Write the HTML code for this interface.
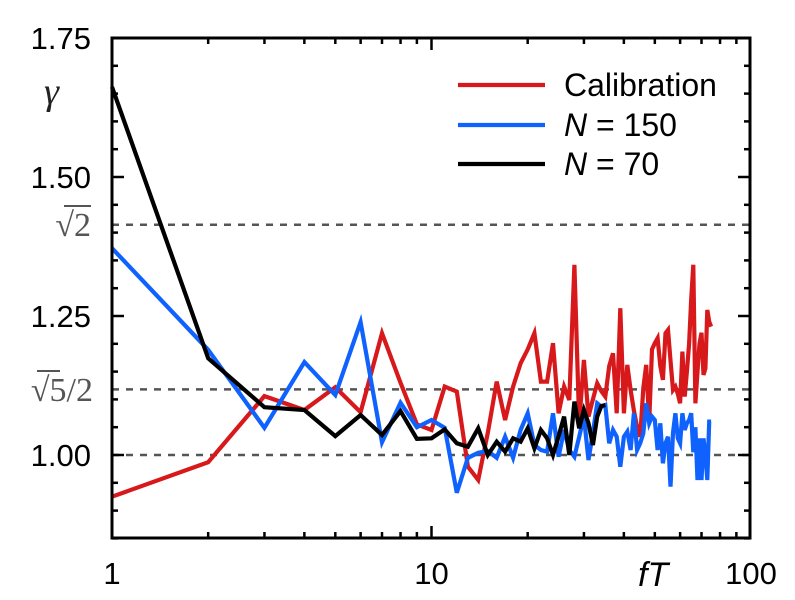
<!DOCTYPE html>
<html><head><meta charset="utf-8"><style>
html,body{margin:0;padding:0;background:#fff;}
svg{display:block;font-family:"Liberation Sans",sans-serif;}
</style></head><body>
<svg id="chart" width="795" height="600" viewBox="0 0 795 600" xmlns="http://www.w3.org/2000/svg">
<g id="grid"></g>
<g id="series"></g>
<g id="axes"></g>
<g id="legend"></g>
</svg>
<script>
const redValues = [0.925,0.987,1.106,1.081,1.122,1.077,1.219,1.13,1.055,1.045,1.123,1.114,0.979,0.955,1.04,1.132,1.063,1.123,1.165,1.19,1.219,1.132,1.132,1.201,1.075,1.123,1.099,1.342,1.057,1.171,1.069,1.10,1.129,1.115,1.105,1.16,1.183,1.075,1.264,1.075,1.162,1.117,1.08,1.05,1.033,1.12,1.162,1.06,1.19,1.201,1.21,1.16,1.135,1.219,1.225,1.17,1.117,1.123,1.11,1.093,1.186,1.105,1.15,1.20,1.28,1.342,1.093,1.15,1.20,1.22,1.144,1.156,1.261,1.24,1.231];
const blueValues = [1.372,1.189,1.049,1.167,1.108,1.239,1.023,1.094,1.05,1.063,1.049,0.932,0.995,1.004,1.007,0.995,1.033,0.995,1.045,1.075,1.018,1.009,1.006,1.075,0.997,1.045,1.009,0.997,1.033,1.069,0.991,1.04,1.093,1.087,1.09,1.021,1.045,1.033,0.979,1.033,1.042,1.009,1.075,1.009,1.021,1.039,1.093,1.057,1.069,1.063,1.009,1.057,0.985,1.021,1.033,0.943,1.04,1.075,1.03,1.021,1.075,1.045,1.057,1.063,1.075,1.005,1.05,0.955,1.03,0.955,1.03,1.0,0.955,1.06,1.06];
const blackValues = [1.662,1.174,1.086,1.081,1.034,1.072,1.036,1.079,1.029,1.030,1.046,1.021,1.015,1.048,1.0,1.024,1.006,1.030,1.024,1.048,1.012,1.045,1.03,1.0,1.034,1.069,1.0,1.096,1.048,1.081,1.057,1.018,1.069,1.088,1.09];
const yTickValues = [1.00,1.25,1.50,1.75];
const yTickLabels = ["1.00","1.25","1.50","1.75"];
const xTickValues = [1,10,100];
const xTickLabels = ["1","10","100"];
const refValues = [1.0, 1.1180, 1.4142];

const NS="http://www.w3.org/2000/svg";
const L=112,R=750,T=38,B=538;
const xs=v=>L+319.5*Math.log10(v);
const ys=v=>455-(v-1)*556;
function mk(tag,attrs,parent){const e=document.createElementNS(NS,tag);for(const k in attrs)e.setAttribute(k,attrs[k]);parent.appendChild(e);return e;}
const grid=document.getElementById('grid'),series=document.getElementById('series'),axes=document.getElementById('axes');

refValues.forEach((v,i)=>{
  const ln=mk('line',{x1:L,x2:R,y1:ys(v),y2:ys(v),stroke:'#555','stroke-width':2.5,'stroke-dasharray':'7,7'},grid);
  
  
});

function drawSeries(vals,color,name){
  const pts=vals.map((v,i)=>xs(i+1).toFixed(1)+','+ys(v).toFixed(1)).join(' ');
  const p=mk('polyline',{points:pts,fill:'none',stroke:color,'stroke-width':4.2,'stroke-linejoin':'miter','stroke-miterlimit':4},series);
  
  
}
drawSeries(redValues,'#d7191c','calibration-line');
drawSeries(blueValues,'#0f62fe','n150-line');
drawSeries(blackValues,'#000','n70-line');

const fr=mk('rect',{x:L,y:T,width:R-L,height:B-T,fill:'none',stroke:'#000','stroke-width':3},axes);


for(let k=0;k<=18;k++){
  const v=0.85+k*0.05; if(v>1.751)break;
  const y=ys(v); const major=Math.abs(((v-1)/0.25)-Math.round((v-1)/0.25))<1e-6;
  const len=major?12:6;
  mk('line',{x1:L,x2:L+len,y1:y,y2:y,stroke:'#000','stroke-width':2.5},axes);
  mk('line',{x1:R,x2:R-len,y1:y,y2:y,stroke:'#000','stroke-width':2.5},axes);
}
yTickValues.forEach((v,i)=>{
  const t=mk('text',{x:91,y:ys(v)+11,'text-anchor':'end','font-size':31,fill:'#000'},axes);
  t.textContent=yTickLabels[i];
  
  
});
[1,10].forEach(d=>{for(let m=1;m<=9;m++){const v=d*m;const x=xs(v);if(m===1&&d===1)continue;const len=(m===1)?12:6;
  mk('line',{x1:x,x2:x,y1:B,y2:B-len,stroke:'#000','stroke-width':2.5},axes);
  mk('line',{x1:x,x2:x,y1:T,y2:T+len,stroke:'#000','stroke-width':2.5},axes);}});
xTickValues.forEach((v,i)=>{
  const t=mk('text',{x:xs(v),y:584,'text-anchor':'middle','font-size':31,fill:'#000'},axes);
  t.textContent=xTickLabels[i];
  
  
});
</script>
<svg style="position:absolute;left:0;top:0" width="795" height="600">
<text x="44" y="104" font-family="Liberation Serif,serif" font-style="italic" font-size="38" fill="#222">γ</text>
<g>
<text x="91" y="236" text-anchor="end" font-family="Liberation Serif,serif" font-size="34" fill="#555">√2</text>
<line x1="64" y1="206" x2="91" y2="206" stroke="#555" stroke-width="2"/></g>
<g>
<text x="93" y="401" text-anchor="end" font-family="Liberation Serif,serif" font-size="34" fill="#555">√5/2</text>
<line x1="37" y1="371" x2="60" y2="371" stroke="#555" stroke-width="2"/></g>
<text x="638" y="586" font-family="Liberation Sans,sans-serif" font-style="italic" font-size="34" fill="#000">fT</text>
<g>
<line x1="458" y1="85" x2="545" y2="85" stroke="#d7191c" stroke-width="4.2"/>
<text x="564" y="96" font-size="32" font-family="Liberation Sans,sans-serif" fill="#000">Calibration</text></g>
<g>
<line x1="458" y1="125" x2="545" y2="125" stroke="#0f62fe" stroke-width="4.2"/>
<text x="564" y="136" font-size="32" font-family="Liberation Sans,sans-serif" fill="#000"><tspan font-style="italic">N</tspan> = 150</text></g>
<g>
<line x1="458" y1="164" x2="545" y2="164" stroke="#000" stroke-width="4.2"/>
<text x="564" y="175" font-size="32" font-family="Liberation Sans,sans-serif" fill="#000"><tspan font-style="italic">N</tspan> = 70</text></g>
</svg>
</body></html>
